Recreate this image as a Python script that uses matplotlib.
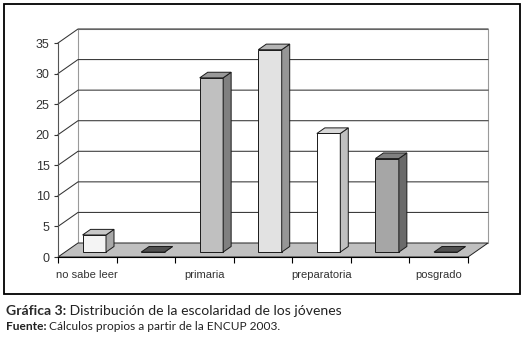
import matplotlib
matplotlib.use("Agg")
from matplotlib import pyplot as plt
from matplotlib.patches import Polygon, Rectangle

# data
categorias = ["no sabe leer", "sabe leer", "primaria", "secundaria",
              "preparatoria", "licenciatura", "posgrado"]
porcentajes = [2.8, 0.0, 28.5, 33.1, 19.4, 15.3, 0.0]
yticks = [0, 5, 10, 15, 20, 25, 30, 35]

# (front, side, top) colour of each bar
colores = [("#f4f4f4", "#a8a8a8", "#c8c8c8"),
           ("#505050", "#404040", "#505050"),
           ("#c0c0c0", "#808080", "#999999"),
           ("#e2e2e2", "#969696", "#b4b4b4"),
           ("#ffffff", "#c0c0c0", "#d8d8d8"),
           ("#a6a6a6", "#6a6a6a", "#808080"),
           ("#505050", "#404040", "#505050")]

plt.rcParams["font.family"] = ["Liberation Sans", "DejaVu Sans"]

fig = plt.figure(figsize=(5.25, 3.49), dpi=100)
ax = fig.add_axes([58 / 525, 92 / 349, 410 / 525, 214 / 349])
n = len(categorias)
ax.set_xlim(0, n)
ax.set_ylim(0, 35)
ax.patch.set_visible(False)
for s in ["top", "right"]:
    ax.spines[s].set_visible(False)
for s in ["left", "bottom"]:
    ax.spines[s].set_linewidth(0.8)
    ax.spines[s].set_zorder(6)
ax.spines["left"].set_color("#555555")

# depth offset of the 3d box, in data units
dx = 20 / 410 * n
dy = 14 / 214 * 35
ymax = 35

# left wall and back wall
ax.add_patch(Polygon([(0, 0), (dx, dy), (dx, ymax + dy), (0, ymax)],
                     closed=True, fc="white", ec="none", clip_on=False, zorder=1))
ax.add_patch(Rectangle((dx, dy), n, ymax, fc="white", ec="#9a9a9a",
                       lw=0.8, clip_on=False, zorder=1))
for v in yticks[1:]:
    ax.plot([0, dx, n + dx], [v, v + dy, v + dy], color="#333333",
            lw=0.75, clip_on=False, zorder=2)

# floor
ax.add_patch(Polygon([(0, 0), (n, 0), (n + dx, dy), (dx, dy)], closed=True,
                     fc="#c0c0c0", ec="#222222", lw=0.7, clip_on=False, zorder=3))

# bars
w = 0.4
fb = 0.35
fd = 0.4
for i, (v, (cf, cs, ct)) in enumerate(zip(porcentajes, colores)):
    x0 = i + 0.5 - w / 2 + fb * dx
    y0 = fb * dy
    ddx, ddy = fd * dx, fd * dy
    kw = dict(ec="#1a1a1a", lw=0.7, clip_on=False, zorder=4)
    ax.add_patch(Rectangle((x0, y0), w, v, fc=cf, **kw))
    ax.add_patch(Polygon([(x0 + w, y0), (x0 + w + ddx, y0 + ddy),
                          (x0 + w + ddx, y0 + ddy + v), (x0 + w, y0 + v)],
                         closed=True, fc=cs, **kw))
    ax.add_patch(Polygon([(x0, y0 + v), (x0 + w, y0 + v),
                          (x0 + w + ddx, y0 + v + ddy), (x0 + ddx, y0 + v + ddy)],
                         closed=True, fc=ct, **kw))

ax.set_yticks(yticks)
ax.tick_params(axis="y", length=3, width=0.8, pad=3, labelsize=9,
               labelcolor="#333333", color="#333333")
ax.set_xticks(range(n + 1))
ax.set_xticklabels([])
ax.set_xticks([i + 0.5 for i in range(n)], minor=True)
ax.set_xticklabels([c if i % 2 == 0 else "" for i, c in enumerate(categorias)],
                   minor=True)
ax.tick_params(axis="x", which="major", length=4, width=0.8, direction="out")
ax.tick_params(axis="x", which="minor", length=0, pad=9.5, labelsize=8,
               labelcolor="#333333")

# outer frame
fig.patches.append(Rectangle((4 / 525, 55 / 349), 516 / 525, 290 / 349,
                             transform=fig.transFigure, fc="none", ec="black",
                             lw=1.3))

# caption
cap_font = ["Lato", "DejaVu Sans"]
t1 = fig.text(6 / 525, 1 - 311 / 349, "Gráfica 3:", family=cap_font,
              fontsize=10.1, fontweight="bold", color="#2a2a2a", va="center")
fig.canvas.draw()
ax.annotate(" Distribución de la escolaridad de los jóvenes", xy=(1, 0),
            xycoords=t1, va="bottom", ha="left", family=cap_font,
            fontsize=10.1, color="#222222", annotation_clip=False)
t2 = fig.text(6 / 525, 1 - 327 / 349, "Fuente:", family=cap_font,
              fontsize=8.6, fontweight="bold", color="#222222", va="center")
ax.annotate(" Cálculos propios a partir de la ENCUP 2003.", xy=(1, 0),
            xycoords=t2, va="bottom", ha="left", family=cap_font,
            fontsize=8.6, color="#222222", annotation_clip=False)

fig.savefig("out.png", dpi=100)
